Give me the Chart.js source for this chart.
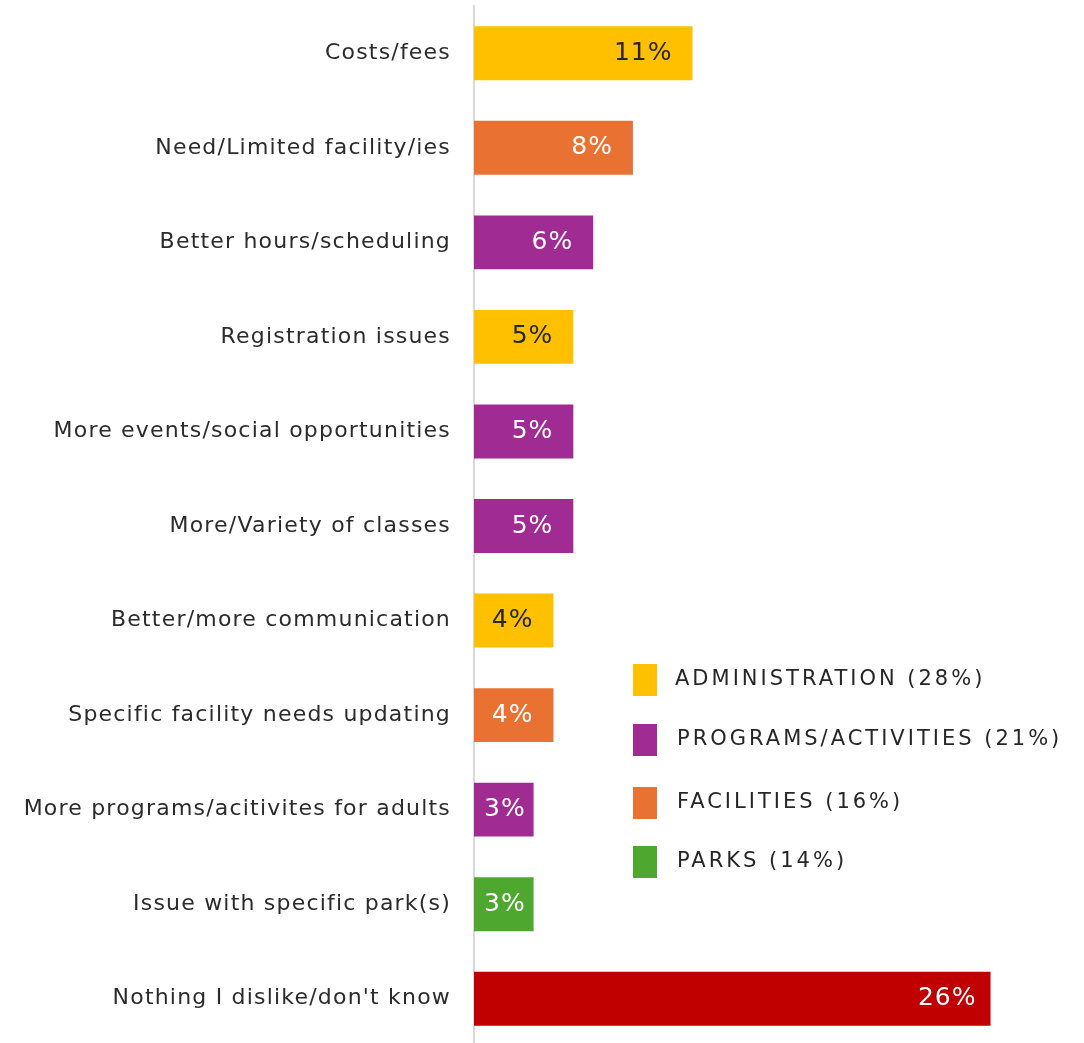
<!DOCTYPE html>
<html>
<head>
<meta charset="utf-8">
<script src="https://cdn.jsdelivr.net/npm/chart.js@4.4.0/dist/chart.umd.min.js"></script>
<style>
  html, body { margin: 0; padding: 0; background: #fff; overflow: hidden; }
  canvas { display: block; }
</style>
</head>
<body>
<canvas id="chart" width="1084" height="1046"></canvas>
<script>
// DATA
const categories = [
  'Costs/fees',
  'Need/Limited facility/ies',
  'Better hours/scheduling',
  'Registration issues',
  'More events/social opportunities',
  'More/Variety of classes',
  'Better/more communication',
  'Specific facility needs updating',
  'More programs/acitivites for adults',
  'Issue with specific park(s)',
  "Nothing I dislike/don't know"
];
const values = [11, 8, 6, 5, 5, 5, 4, 4, 3, 3, 26];
const groups = ['admin', 'facil', 'prog', 'admin', 'prog', 'prog', 'admin', 'facil', 'prog', 'parks', 'none'];

const legendLabels = ['ADMINISTRATION (28%)', 'PROGRAMS/ACTIVITIES (21%)', 'FACILITIES (16%)', 'PARKS (14%)'];
const legendGroups = ['admin', 'prog', 'facil', 'parks'];

// colours
const groupColors = {
  admin: '#FFC000',
  prog: '#A02B93',
  facil: '#E97132',
  parks: '#4EA72E',
  none: '#C00000'
};
const labelColors = { admin: '#262626', prog: '#fff', facil: '#fff', parks: '#fff', none: '#fff' };

const FONT = '"DejaVu Sans", sans-serif';

// data labels inside the bar end
const valueLabels = {
  id: 'valueLabels',
  afterDatasetsDraw(chart) {
    const ctx = chart.ctx;
    const meta = chart.getDatasetMeta(0);
    ctx.save();
    ctx.font = '25px ' + FONT;
    ctx.letterSpacing = '1px';
    ctx.textBaseline = 'middle';
    meta.data.forEach((bar, i) => {
      const txt = values[i] + '%';
      const w = ctx.measureText(txt).width;
      ctx.fillStyle = labelColors[groups[i]];
      let right = bar.x - (values[i] > 20 ? 14 : 20);
      if (right - w < bar.base + 2) {
        ctx.textAlign = 'center';
        ctx.fillText(txt, (bar.x + bar.base) / 2 + 1, bar.y);
      } else {
        ctx.textAlign = 'right';
        ctx.fillText(txt, right, bar.y);
      }
    });
    ctx.restore();
  }
};

// legend block in the middle of the plot
const sideLegend = {
  id: 'sideLegend',
  afterDraw(chart) {
    const ctx = chart.ctx;
    const rows = [680, 740, 803, 862];
    ctx.save();
    ctx.font = '21px ' + FONT;
    ctx.letterSpacing = '3px';
    ctx.textBaseline = 'middle';
    ctx.textAlign = 'left';
    legendLabels.forEach((lab, i) => {
      ctx.fillStyle = groupColors[legendGroups[i]];
      ctx.fillRect(633, rows[i] - 16, 24, 32);
      ctx.fillStyle = '#262626';
      ctx.fillText(lab, i === 0 ? 675 : 677, rows[i]);
    });
    ctx.restore();
  }
};

const spacing = {
  id: 'spacing',
  beforeDraw(chart) { chart.ctx.letterSpacing = '1.2px'; }
};

const ctx = document.getElementById('chart');
const myChart = new Chart(ctx, {
  type: 'bar',
  data: {
    labels: categories,
    datasets: [{
      data: values,
      backgroundColor: groups.map(g => groupColors[g]),
      barPercentage: 0.57,
      categoryPercentage: 1
    }]
  },
  options: {
    indexAxis: 'y',
    responsive: false,
    animation: false,
    layout: { padding: { top: 6, right: 14, bottom: 0, left: 0 } },
    scales: {
      x: { display: false, min: 0, max: 30 },
      y: {
        grid: { display: false, drawTicks: false },
        border: { color: '#d9d9d9', width: 2 },
        ticks: { color: '#2b2b2b', font: { family: FONT, size: 22 }, padding: 23 },
        afterFit(scale) {
          scale.width = 474;
          scale.paddingTop = 0;
          scale.paddingBottom = 0;
        }
      }
    },
    plugins: {
      legend: { display: false },
      tooltip: { enabled: false }
    }
  },
  plugins: [spacing, valueLabels, sideLegend]
});
</script>
</body>
</html>
